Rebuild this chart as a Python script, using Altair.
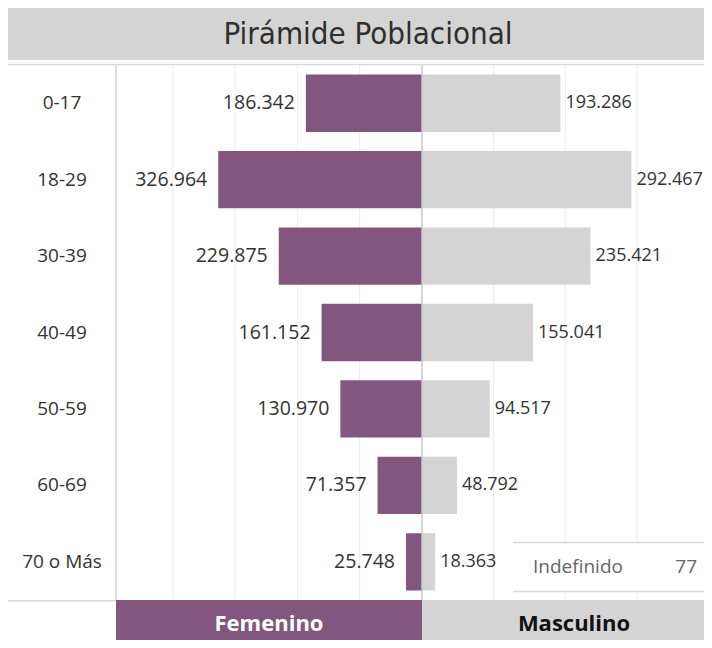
import altair as alt
import pandas as pd

# ---- data ----
ages = ["0-17", "18-29", "30-39", "40-49", "50-59", "60-69", "70 o Más"]
femenino = [186342, 326964, 229875, 161152, 130970, 71357, 25748]
masculino = [193286, 292467, 235421, 155041, 94517, 48792, 18363]
undefined_label = "Indefinido"
undefined_value = 77
title_text = "Pirámide Poblacional"
headers = ["Femenino", "Masculino"]
fem_grid = [100000, 200000, 300000, 400000]
mas_grid = [100000, 200000, 300000]


def fmt(v):
    return f"{v:,}".replace(",", ".")


df = pd.DataFrame({
    "age": ages,
    "fem": femenino,
    "mas": masculino,
    "fem_lbl": [fmt(v) for v in femenino],
    "mas_lbl": [fmt(v) for v in masculino],
})
fem_g = pd.DataFrame({"g": fem_grid})
mas_g = pd.DataFrame({"g": mas_grid})
one = pd.DataFrame({"t": [title_text], "f": [headers[0]], "m": [headers[1]],
                    "lab": [undefined_label], "val": [str(undefined_value)]})

PURPLE = "#83567f"
GRAY = "#d4d4d4"
LINE = "#d9d9d9"
GRID = "#ececec"
TXT = "#333333"
FONT = "Open Sans"
TITLE_FONT = "Liberation Sans Narrow, DejaVu Sans Condensed, Roboto"

W, H = 696, 632
X_LEFT, X_MID = 108, 414          # panel edges (pixels inside the view)
Y_TOP, Y_BOT = 57, 592

yenc = alt.Y("age:N", sort=ages, axis=None,
             scale=alt.Scale(range=[Y_TOP, Y_BOT], paddingInner=0.25, paddingOuter=0.125))
fem_scale = alt.Scale(domain=[0, 491000], range=[X_MID, X_LEFT], nice=False)
mas_scale = alt.Scale(domain=[0, 405000], range=[X_MID, 704], nice=False)

base = alt.Chart(df)
c1 = alt.Chart(one)

layers = [
    # title band
    c1.mark_rect(color=GRAY).encode(x=alt.value(0), x2=alt.value(W), y=alt.value(0), y2=alt.value(52)),
    c1.mark_text(font=TITLE_FONT, fontSize=31, color="#2e2e2e", baseline="middle").encode(
        x=alt.value(360), y=alt.value(27), text="t:N"),
    c1.mark_rule(color=LINE, strokeWidth=1.5).encode(
        x=alt.value(0), x2=alt.value(W), y=alt.value(56.5)),
    # gridlines
    alt.Chart(fem_g).mark_rule(color=GRID, strokeWidth=1).encode(
        x=alt.X("g:Q", scale=fem_scale, axis=None), y=alt.value(Y_TOP), y2=alt.value(Y_BOT)),
    alt.Chart(mas_g).mark_rule(color=GRID, strokeWidth=1).encode(
        x=alt.X("g:Q", scale=mas_scale, axis=None), y=alt.value(Y_TOP), y2=alt.value(Y_BOT)),
    # bars
    base.mark_bar(color=PURPLE).encode(x=alt.X("fem:Q", scale=fem_scale, axis=None), y=yenc),
    base.mark_bar(color=GRAY).encode(x=alt.X("mas:Q", scale=mas_scale, axis=None), y=yenc),
    # panel lines
    c1.mark_rule(color="#d0d0d0", strokeWidth=1.5).encode(
        x=alt.value(X_LEFT), y=alt.value(Y_TOP), y2=alt.value(Y_BOT)),
    c1.mark_rule(color="#c8c8c8", strokeWidth=1.5).encode(
        x=alt.value(X_MID), y=alt.value(Y_TOP), y2=alt.value(Y_BOT)),
    # labels
    base.mark_text(font=FONT, fontSize=19, color=TXT, baseline="middle").encode(
        x=alt.value(54), y=yenc, text="age:N"),
    base.mark_text(font=FONT, fontSize=19.5, color=TXT, align="right", dx=-11,
                   baseline="middle").encode(
        x=alt.X("fem:Q", scale=fem_scale, axis=None), y=yenc, text="fem_lbl:N"),
    base.mark_text(font=FONT, fontSize=18, color=TXT, align="left", dx=5,
                   baseline="middle").encode(
        x=alt.X("mas:Q", scale=mas_scale, axis=None), y=yenc, text="mas_lbl:N"),
    # Indefinido box
    c1.mark_rect(color="white").encode(
        x=alt.value(505), x2=alt.value(697), y=alt.value(534), y2=alt.value(584)),
    c1.mark_rule(color=LINE, strokeWidth=1.5).encode(
        x=alt.value(505), x2=alt.value(697), y=alt.value(534.5)),
    c1.mark_rule(color=LINE, strokeWidth=1.5).encode(
        x=alt.value(505), x2=alt.value(697), y=alt.value(583.5)),
    c1.mark_text(font=FONT, fontSize=19, color="#666666", align="left", baseline="middle").encode(
        x=alt.value(525), y=alt.value(559), text="lab:N"),
    c1.mark_text(font=FONT, fontSize=19, color="#666666", align="right", baseline="middle").encode(
        x=alt.value(689), y=alt.value(559), text="val:N"),
    # bottom header
    c1.mark_rule(color=LINE, strokeWidth=1.5).encode(
        x=alt.value(0), x2=alt.value(X_LEFT), y=alt.value(Y_BOT + 0.75)),
    c1.mark_rect(color=PURPLE).encode(
        x=alt.value(X_LEFT), x2=alt.value(X_MID), y=alt.value(Y_BOT), y2=alt.value(H)),
    c1.mark_rect(color=GRAY).encode(
        x=alt.value(X_MID), x2=alt.value(W), y=alt.value(Y_BOT), y2=alt.value(H)),
    c1.mark_text(font=FONT, fontSize=22, fontWeight="bold", color="white", baseline="middle").encode(
        x=alt.value(261), y=alt.value(616), text="f:N"),
    c1.mark_text(font=FONT, fontSize=22, fontWeight="bold", color="#111111", baseline="middle").encode(
        x=alt.value(566), y=alt.value(616), text="m:N"),
]

chart = alt.layer(*layers).resolve_scale(x="independent").properties(
    width=W, height=H, padding=0, autosize=alt.AutoSizeParams(type="none")
).configure_view(strokeWidth=0)

chart.save("out.html", embed_options={"renderer": "svg", "actions": False})
